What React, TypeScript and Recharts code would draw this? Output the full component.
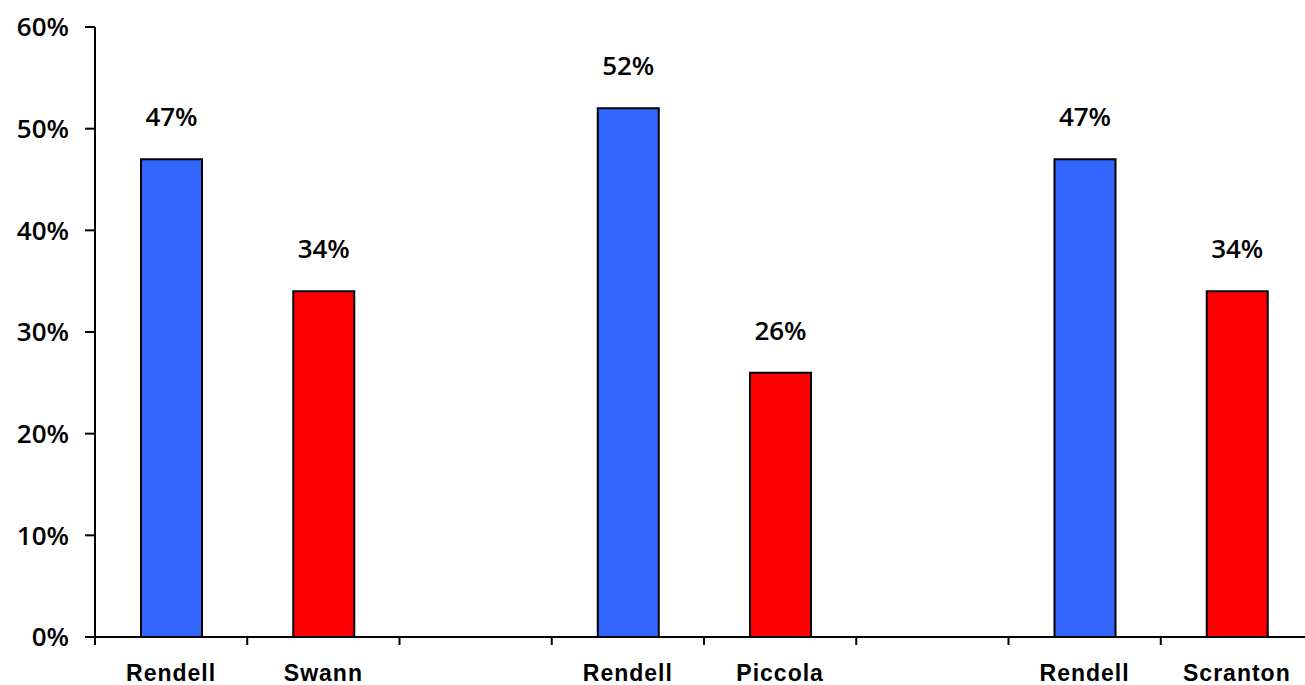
import { BarChart, Bar, XAxis, YAxis, Cell, LabelList } from 'recharts';

const candidates = ['Rendell', 'Swann', '', 'Rendell', 'Piccola', '', 'Rendell', 'Scranton'];
const shares = [47, 34, null, 52, 26, null, 47, 34];
const yTicks = [0, 10, 20, 30, 40, 50, 60];

const data = candidates.map((name, i) => ({ name, share: shares[i] }));

const BLUE = '#3366ff';
const RED = '#ff0000';
const numFont = { fill: '#000', fontSize: 26, fontWeight: 600, fontFamily: '"Open Sans", "DejaVu Sans", sans-serif' };

// category label plus a tick mark on the left edge of its slot
const SlotTick = (props: any) => {
  const { x, y, payload } = props;
  const half = payload && payload.offset ? payload.offset : 76;
  return (
    <g>
      <line x1={x - half} x2={x - half} y1={y} y2={y + 8} stroke="#000" strokeWidth={2} />
      <text
        x={x}
        y={y + 44}
        textAnchor="middle"
        fill="#000"
        fontSize={23}
        fontWeight={700}
        letterSpacing={1}
        fontFamily="Liberation Sans, Arial, sans-serif"
      >
        {payload.value}
      </text>
    </g>
  );
};

const App = () => {
  return (
    <div style={{ position: 'absolute', left: 0, top: 0, width: 1305, height: 685, overflow: 'hidden', background: '#fff' }}>
      <BarChart
        width={1320}
        height={685}
        data={data}
        margin={{ top: 27, right: 7, left: 0, bottom: 0 }}
      >
        <XAxis
          dataKey="name"
          interval={0}
          tickLine={false}
          tickSize={0}
          tickMargin={0}
          height={48}
          axisLine={{ stroke: '#000', strokeWidth: 2 }}
          tick={<SlotTick />}
        />
        <YAxis
          domain={[0, 60]}
          ticks={yTicks}
          interval={0}
          width={95}
          tickSize={10}
          tickMargin={16}
          tickFormatter={(v: number) => `${v}%`}
          axisLine={{ stroke: '#000', strokeWidth: 2 }}
          tickLine={{ stroke: '#000', strokeWidth: 2 }}
          tick={numFont}
        />
        <Bar dataKey="share" barSize={61} stroke="#000" strokeWidth={2} isAnimationActive={false}>
          {data.map((d, i) => (
            <Cell key={i} fill={d.name === 'Rendell' ? BLUE : RED} />
          ))}
          <LabelList
            dataKey="share"
            position="top"
            offset={33}
            formatter={(v: any) => (v == null ? '' : `${v}%`)}
            style={numFont}
          />
        </Bar>
      </BarChart>
    </div>
  );
};

export default App;
